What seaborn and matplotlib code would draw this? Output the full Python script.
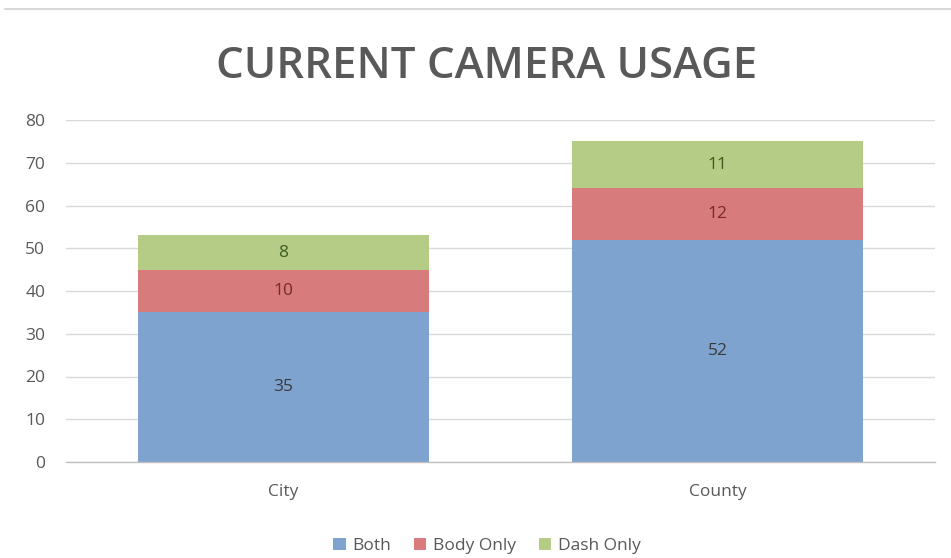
import matplotlib
matplotlib.use("Agg")
import matplotlib.pyplot as plt
import seaborn as sns
import numpy as np
import pandas as pd
from matplotlib.patches import Patch
from matplotlib.lines import Line2D

categories = ["City", "County"]
series_names = ["Both", "Body Only", "Dash Only"]
both = [35, 52]
body_only = [10, 12]
dash_only = [8, 11]
y_ticks = [0, 10, 20, 30, 40, 50, 60, 70, 80]

colors = ["#7EA3CF", "#D77B7C", "#B5CC87"]
label_colors = ["#3A3A3A", "#7A2A2A", "#3E5A1E"]

sns.set_theme(style="white")
plt.rcParams["font.family"] = ["Open Sans", "DejaVu Sans"]

fig = plt.figure(figsize=(9.51, 5.58), dpi=100)
ax = fig.add_axes([66/951, 1 - 462/558, (935-66)/951, (462-120)/558])

series = [both, body_only, dash_only]
cum = np.cumsum(np.array(series), axis=0)

for i in reversed(range(len(series))):
    df = pd.DataFrame({"cat": categories, "val": cum[i]})
    sns.barplot(data=df, x="cat", y="val", color=colors[i], width=0.67,
                saturation=1, ax=ax, zorder=2, edgecolor="none")

for i in range(len(series)):
    for j, cat in enumerate(categories):
        ymid = cum[i][j] - series[i][j] / 2
        ax.text(j, ymid, str(series[i][j]), ha="center", va="center",
                fontsize=12.5, color=label_colors[i], zorder=5)

ax.set_ylim(0, 80)
ax.set_xlim(-0.5, 1.5)
ax.set_yticks(y_ticks)
ax.set_yticklabels([str(t) for t in y_ticks])
ax.yaxis.grid(True, color="#D9D9D9", linewidth=1, zorder=0)
ax.set_axisbelow(True)
for s in ["top", "right", "left"]:
    ax.spines[s].set_visible(False)
ax.spines["bottom"].set_color("#BFBFBF")
ax.spines["bottom"].set_linewidth(1)
ax.tick_params(axis="y", length=0, pad=15, labelsize=12.5, labelcolor="#595959")
ax.tick_params(axis="x", length=0, pad=16, labelsize=12.5, labelcolor="#595959")
ax.set_xlabel("")
ax.set_ylabel("")

fig.text(487/951, 1 - 66/558, "CURRENT CAMERA USAGE", ha="center", va="center",
         fontsize=31.5, fontweight="semibold", color="#595959")

# top border line
fig.add_artist(Line2D([5/951, 1], [1 - 9/558, 1 - 9/558], color="#D9D9D9",
                      linewidth=1.5, transform=fig.transFigure))

handles = [Patch(facecolor=c, edgecolor="none") for c in colors]
fig.legend(handles, series_names, loc="center", bbox_to_anchor=(487/951, 1 - 546/558),
           ncol=3, frameon=False, fontsize=12.5, handlelength=0.7, handleheight=0.7,
           handletextpad=0.4, columnspacing=1.3, labelcolor="#595959")

fig.savefig("out.png", dpi=100, facecolor="white")
